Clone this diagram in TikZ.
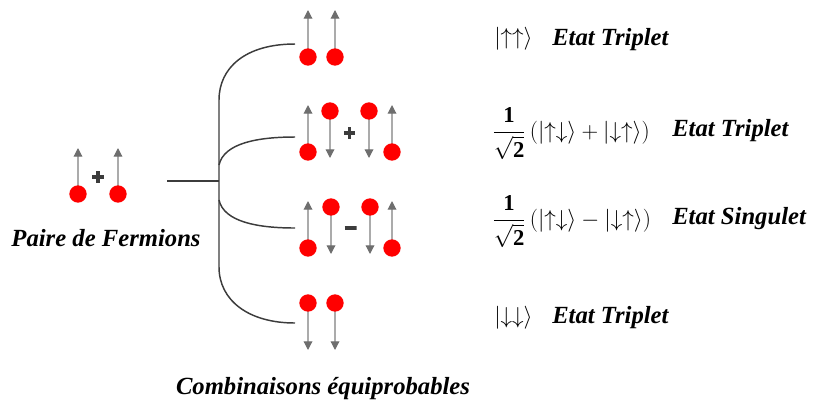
\documentclass[tikz,border=0pt]{standalone}
\usepackage{amsmath}
\usepackage{fontspec}
\setmainfont{Liberation Serif}
\usepackage{tikz}
\usetikzlibrary{positioning,arrows.meta}
\definecolor{spinred}  {HTML}{FF0000}
\definecolor{grey700}  {HTML}{6E6E6E}
\definecolor{grey400}  {HTML}{ABABAB}
\definecolor{grey800}  {HTML}{3C3C3C}
\tikzset{
  dot/.style   ={circle, fill=spinred, draw=none, minimum size=13pt,
                 inner sep=0pt},
  spin/.style  ={-{Triangle[length=6.5pt, width=6.5pt, color=grey700]},
                 draw=grey400, line width=0.9pt},
  tree/.style  ={draw=grey800, line width=1.1pt},
  minussign/.style={minimum width=9pt, minimum height=9pt, inner sep=0pt,
                 path picture={\draw[grey800, line width=2.6pt]
                   (path picture bounding box.west) --
                   (path picture bounding box.east);}},
  plussign/.style={minimum width=9pt, minimum height=9pt, inner sep=0pt,
                 path picture={\draw[grey800, line width=2.8pt]
                   (path picture bounding box.north) --
                   (path picture bounding box.south)
                   (path picture bounding box.west) --
                   (path picture bounding box.east);}},
  lbl/.style   ={font=\fontsize{18.5pt}{22pt}\selectfont\bfseries\itshape,
                 inner sep=0pt},
  ket/.style   ={font=\fontsize{17pt}{20pt}\selectfont, anchor=west,
                 inner sep=0pt}
}
\newcommand{\inv}{\dfrac{\mathbf{1}}{\sqrt{\mathbf{2}}}}

\begin{document}
\begin{tikzpicture}[x=0.75pt, y=-0.75pt]
\useasboundingbox (0,0) rectangle (813,405);

% spins: name/x/y of the dot, y of the tip
\foreach \n/\x/\y/\t in {p1/78/194/148, p2/118/194/148,
    a1/308/57/10,   a2/335/57/10,
    b1/308/152/105, b2/330/111/158, b3/369/111/158, b4/392/152/105,
    c1/308/248/201, c2/331/207/254, c3/370/207/254, c4/392/248/201,
    d1/308/303/350, d2/335/303/350}{
  \coordinate (\n) at (\x,\y);
  \coordinate (\n t) at (\x,\t);
  \draw[spin] (\n) -- (\n t);
  \node[dot] at (\n) {};
}
\node[plussign] (plus0) at (98,177) {};
\node[plussign, minimum width=8.3pt, minimum height=8.3pt] (plusb)
  at (349.5,133) {};
\node[minussign] (minus) at (350.5,228) {};

% branching tree
\coordinate (root) at (167,181);
\coordinate (fork) at (219,181);
\coordinate (ta) at (295,44);
\coordinate (tb) at (295,137);
\coordinate (tc) at (295,228);
\coordinate (td) at (295,323);
\draw[tree] (root) -- (fork);
\draw[tree] (ta) .. controls (245,44) and (219,68) .. (219,100)
  -- (219,267) .. controls (219,300) and (248,323) .. (td);
\draw[tree] (219,165) .. controls (224,143) and (258,137) .. (tb);
\draw[tree] (219,200) .. controls (224,222) and (258,228) .. (tc);

% states
\node[ket] (ka) at (494,39) {$|{\uparrow\uparrow}\rangle$};
\node[ket] (kb) at (492,134)
  {$\inv\,(|{\uparrow\downarrow}\rangle+|{\downarrow\uparrow}\rangle)$};
\node[ket] (kc) at (492,222)
  {$\inv\,(|{\uparrow\downarrow}\rangle-|{\downarrow\uparrow}\rangle)$};
\node[ket] (kd) at (494,318) {$|{\downarrow\downarrow}\rangle$};

\node[lbl, anchor=west] (ea) at (552,40)  {Etat Triplet};
\node[lbl, anchor=west] (eb) at (672,131) {Etat Triplet};
\node[lbl, anchor=west] (ec) at (672,219) {Etat Singulet};
\node[lbl, anchor=west] (ed) at (552,318) {Etat Triplet};

\node[lbl] (pair) at (106,238) {Paire de Fermions};
\node[lbl] (comb) at (323,389) {Combinaisons équiprobables};
\end{tikzpicture}
\end{document}
